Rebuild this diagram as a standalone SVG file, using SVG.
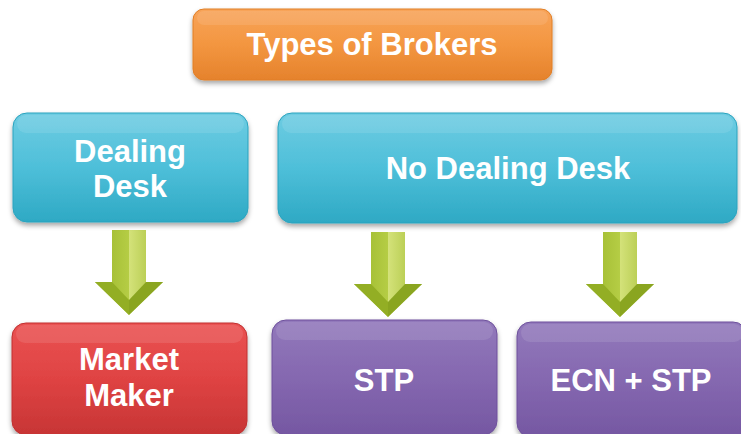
<svg xmlns="http://www.w3.org/2000/svg" width="741" height="434" viewBox="0 0 741 434">
<defs>
<linearGradient id="gOrange" x1="0" y1="0" x2="0" y2="1"><stop offset="0" stop-color="#F8A45A"/><stop offset="0.5" stop-color="#F39640"/><stop offset="1" stop-color="#E5822C"/></linearGradient>
<linearGradient id="gBlue" x1="0" y1="0" x2="0" y2="1"><stop offset="0" stop-color="#6ECCE2"/><stop offset="0.5" stop-color="#4EBFD9"/><stop offset="1" stop-color="#2EA9C4"/></linearGradient>
<linearGradient id="gRed" x1="0" y1="0" x2="0" y2="1"><stop offset="0" stop-color="#EA5252"/><stop offset="0.5" stop-color="#DF4343"/><stop offset="1" stop-color="#C73535"/></linearGradient>
<linearGradient id="gPurple" x1="0" y1="0" x2="0" y2="1"><stop offset="0" stop-color="#9279BB"/><stop offset="0.5" stop-color="#8568B0"/><stop offset="1" stop-color="#7557A2"/></linearGradient>
<linearGradient id="gShaftL" x1="0" y1="0" x2="1" y2="0"><stop offset="0" stop-color="#9AB52A"/><stop offset="1" stop-color="#B5CD45"/></linearGradient>
<linearGradient id="gShaftR" x1="0" y1="0" x2="1" y2="0"><stop offset="0" stop-color="#D4E27A"/><stop offset="1" stop-color="#A3BD33"/></linearGradient>
<filter id="sh" x="-10%" y="-10%" width="120%" height="130%"><feDropShadow dx="0" dy="3" stdDeviation="2.5" flood-color="#000" flood-opacity="0.35"/></filter>
<g id="arrow">
<polygon points="-17,0 0,0 0,85 -34,52 -17,52" fill="url(#gShaftL)"/>
<polygon points="0,0 17,0 17,52 34,52 0,85" fill="url(#gShaftR)"/>
<polygon points="-34,52 -17,52 0,70 0,85" fill="#93AE24"/>
<polygon points="34,52 17,52 0,70 0,85" fill="#8AA520"/>
</g>
</defs>
<style>
.box{filter:url(#sh);stroke-width:1}
.t{font-family:"Liberation Sans",Arial,sans-serif;font-weight:bold;font-size:31px;fill:#fff;text-anchor:middle}
.hl{fill:#fff;opacity:0.1}
</style>
<g id="connectors">
<use href="#arrow" x="129" y="230"/>
<use href="#arrow" x="388" y="232"/>
<use href="#arrow" x="620" y="232"/>
</g>
<g id="types">
<rect class="box" x="193" y="9" width="359" height="71" rx="11" fill="url(#gOrange)" stroke="#E07E26"/>
<rect class="hl" x="197" y="11" width="351" height="14" rx="7"/>
<text class="t" x="372" y="55">Types of Brokers</text>
</g>
<g id="dealing">
<rect class="box" x="13" y="113" width="235" height="109" rx="14" fill="url(#gBlue)" stroke="#2AA3BE"/>
<rect class="hl" x="17" y="115" width="227" height="18" rx="9"/>
<text class="t" x="130" y="162">Dealing</text>
<text class="t" x="130" y="197">Desk</text>
</g>
<g id="nodealing">
<rect class="box" x="278" y="113" width="459" height="110" rx="14" fill="url(#gBlue)" stroke="#2AA3BE"/>
<rect class="hl" x="282" y="115" width="451" height="18" rx="9"/>
<text class="t" x="508" y="179">No Dealing Desk</text>
</g>
<g id="market">
<rect class="box" x="12" y="323" width="235" height="112" rx="14" fill="url(#gRed)" stroke="#C03030"/>
<rect class="hl" x="16" y="325" width="227" height="18" rx="9"/>
<text class="t" x="129" y="370">Market</text>
<text class="t" x="129" y="406">Maker</text>
</g>
<g id="stp">
<rect class="box" x="272" y="320" width="225" height="115" rx="14" fill="url(#gPurple)" stroke="#6E519C"/>
<rect class="hl" x="276" y="322" width="217" height="18" rx="9"/>
<text class="t" x="384" y="391">STP</text>
</g>
<g id="ecn">
<rect class="box" x="517" y="322" width="230" height="115" rx="14" fill="url(#gPurple)" stroke="#6E519C"/>
<rect class="hl" x="521" y="324" width="222" height="18" rx="9"/>
<text class="t" x="631" y="391">ECN + STP</text>
</g>
</svg>
